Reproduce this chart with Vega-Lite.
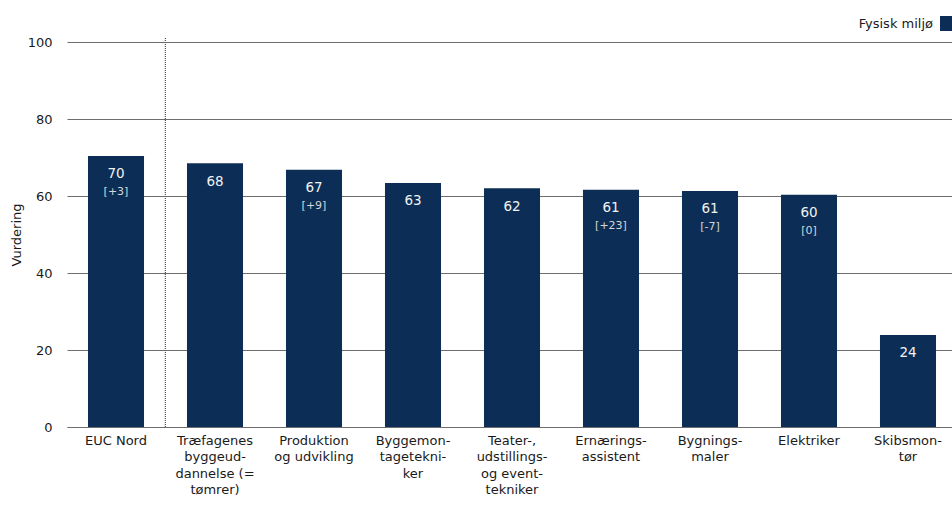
{
  "$schema": "https://vega.github.io/schema/vega-lite/v6.json",
  "autosize": {"type": "none"},
  "padding": {"left": 67, "top": 42, "right": 0, "bottom": 79},
  "width": 890,
  "height": 385,
  "background": "white",
  "config": {
    "view": {"stroke": null},
    "font": "DejaVu Sans",
    "axis": {"labelFont": "DejaVu Sans", "titleFont": "DejaVu Sans", "labelColor": "#1a1a1a", "titleColor": "#1a1a1a"}
  },
  "data": {
    "values": [
      {"uddannelse": "EUC Nord", "vurdering": 70.4, "tal": "70", "aendring": "[+3]"},
      {"uddannelse": "Træfagenes|byggeud-|dannelse (=|tømrer)", "vurdering": 68.5, "tal": "68", "aendring": ""},
      {"uddannelse": "Produktion|og udvikling", "vurdering": 66.8, "tal": "67", "aendring": "[+9]"},
      {"uddannelse": "Byggemon-|tagetekni-|ker", "vurdering": 63.4, "tal": "63", "aendring": ""},
      {"uddannelse": "Teater-,|udstillings-|og event-|tekniker", "vurdering": 62.0, "tal": "62", "aendring": ""},
      {"uddannelse": "Ernærings-|assistent", "vurdering": 61.6, "tal": "61", "aendring": "[+23]"},
      {"uddannelse": "Bygnings-|maler", "vurdering": 61.3, "tal": "61", "aendring": "[-7]"},
      {"uddannelse": "Elektriker", "vurdering": 60.3, "tal": "60", "aendring": "[0]"},
      {"uddannelse": "Skibsmon-|tør", "vurdering": 23.9, "tal": "24", "aendring": ""}
    ]
  },
  "encoding": {
    "x": {
      "field": "uddannelse", "type": "nominal", "sort": null,
      "scale": {"paddingInner": 0.434, "paddingOuter": 0.212},
      "axis": {
        "title": null, "labelAngle": 0, "ticks": false, "domain": true, "domainColor": "#6e6e6e",
        "labelExpr": "split(datum.value, '|')", "labelFontSize": 13, "labelLineHeight": 16.5,
        "labelPadding": 7, "labelBaseline": "top"
      }
    }
  },
  "layer": [
    {
      "mark": {"type": "bar", "color": "#0c2e56"},
      "encoding": {
        "y": {
          "field": "vurdering", "type": "quantitative",
          "scale": {"domain": [0, 100], "nice": false},
          "axis": {
            "title": "Vurdering", "titleFontSize": 13, "titleFontWeight": "normal", "titlePadding": 4,
            "values": [0, 20, 40, 60, 80, 100], "grid": true, "gridColor": "#6e6e6e", "gridWidth": 1,
            "ticks": false, "domain": false, "labelFontSize": 13, "labelPadding": 15
          }
        },
        "color": {
          "datum": "Fysisk miljø",
          "scale": {"range": ["#0c2e56"]},
          "legend": {
            "title": null, "orient": "none", "legendX": 873, "legendY": -26, "padding": 0,
            "symbolType": "square", "symbolSize": 225, "symbolStrokeWidth": 0,
            "labelFontSize": 13, "labelColor": "#1a1a1a", "labelAlign": "right", "labelOffset": -22
          }
        }
      }
    },
    {
      "mark": {"type": "rule", "color": "#555555", "strokeDash": [1, 1], "strokeWidth": 1},
      "encoding": {
        "x": {"datum": "Træfagenes|byggeud-|dannelse (=|tømrer)", "bandPosition": -0.384},
        "y": {"datum": 0},
        "y2": {"datum": 101}
      }
    },
    {
      "mark": {"type": "text", "color": "#f2f2f2", "fontSize": 13.5, "fontWeight": "normal", "baseline": "middle", "dy": 18.5},
      "encoding": {
        "y": {"field": "vurdering", "type": "quantitative"},
        "text": {"field": "tal"}
      }
    },
    {
      "mark": {"type": "text", "color": "#d6d6d6", "fontSize": 11, "baseline": "middle", "dy": 36},
      "encoding": {
        "y": {"field": "vurdering", "type": "quantitative"},
        "text": {"field": "aendring"}
      }
    }
  ]
}
